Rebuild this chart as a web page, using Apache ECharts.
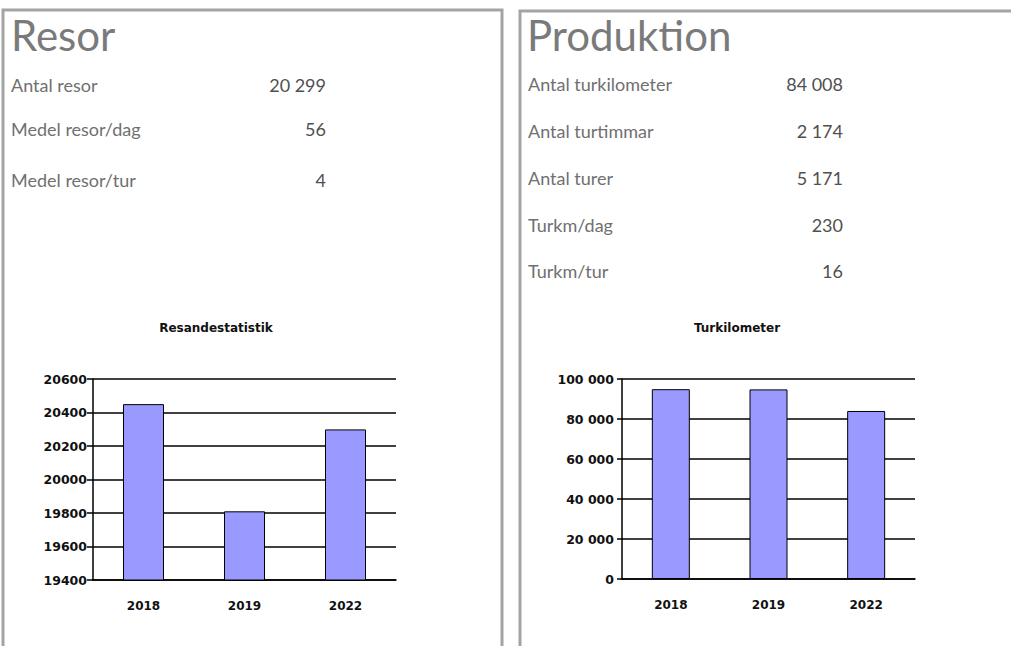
<!DOCTYPE html>
<html>
<head>
<meta charset="utf-8">
<script src="https://cdn.jsdelivr.net/npm/echarts@6/dist/echarts.min.js"></script>
<style>
  html, body { margin: 0; padding: 0; background: #fff; }
  #main { width: 1011px; height: 646px; }
</style>
</head>
<body>
<div id="main"></div>
<script>
// data
const years = ["2018", "2019", "2022"];
const resandeValues = [20450, 19810, 20299];
const turkmValues = [94900, 94800, 84008];

const resorLabels = ["Antal resor", "Medel resor/dag", "Medel resor/tur"];
const resorValues = ["20 299", "56", "4"];
const resorRowY = [87, 131, 182];

const prodLabels = ["Antal turkilometer", "Antal turtimmar", "Antal turer", "Turkm/dag", "Turkm/tur"];
const prodValues = ["84 008", "2 174", "5 171", "230", "16"];
const prodRowY = [86, 133, 180, 227, 273];

const chart = echarts.init(document.getElementById("main"), null, { renderer: "svg" });

const axisFont = { fontFamily: "DejaVu Sans", fontWeight: "bold", fontSize: 12, color: "#111" };
const yFont = { fontFamily: "DejaVu Sans", fontWeight: "bold", fontSize: 12.5, color: "#111" };
const blackLine = { color: "#000", width: 1.5 };

// space as thousands separator
function spaced(v) {
  return String(v).replace(/\B(?=(\d{3})+(?!\d))/g, " ");
}

// text rows of both panels
const panelText = [];
resorLabels.forEach((t, i) => {
  panelText.push({ type: "text", left: 11, top: resorRowY[i] - 11,
    style: { text: t, font: "18px Lato", fill: "#707070" } });
  panelText.push({ type: "text", right: 1011 - 326, top: resorRowY[i] - 11,
    style: { text: resorValues[i], font: "18px Lato", fill: "#505050", textAlign: "right" } });
});
prodLabels.forEach((t, i) => {
  panelText.push({ type: "text", left: 528, top: prodRowY[i] - 11,
    style: { text: t, font: "18px Lato", fill: "#707070" } });
  panelText.push({ type: "text", right: 1011 - 843, top: prodRowY[i] - 11,
    style: { text: prodValues[i], font: "18px Lato", fill: "#505050", textAlign: "right" } });
});

const option = {
  animation: false,
  backgroundColor: "#fff",
  title: [
    { text: "Resandestatistik", left: 211, top: 317, textAlign: "center",
      textStyle: { fontFamily: "DejaVu Sans", fontSize: 12, fontWeight: "bold", color: "#111" } },
    { text: "Turkilometer", left: 732, top: 317, textAlign: "center",
      textStyle: { fontFamily: "DejaVu Sans", fontSize: 12, fontWeight: "bold", color: "#111" } }
  ],
  graphic: [
    // panel borders
    { type: "polyline", shape: { points: [[3, 646], [3, 10], [502, 10], [502, 646]] },
      style: { stroke: "#a4a4a4", lineWidth: 3, fill: null } },
    { type: "polyline", shape: { points: [[520, 646], [520, 11], [1015, 11]] },
      style: { stroke: "#a4a4a4", lineWidth: 3, fill: null } },
    { type: "text", left: 11, top: 14,
      style: { text: "Resor", font: "42px Lato", fill: "#7a7a7a" } },
    { type: "text", left: 527, top: 14,
      style: { text: "Produktion", font: "42px Lato", fill: "#7a7a7a" } }
  ].concat(panelText),
  grid: [
    { left: 93, top: 379, width: 303, height: 201 },
    { left: 622, top: 379, width: 293, height: 200 }
  ],
  xAxis: [
    { type: "category", gridIndex: 0, data: years,
      axisLine: { lineStyle: blackLine }, axisTick: { length: 5, lineStyle: blackLine },
      axisLabel: Object.assign({ margin: 20 }, axisFont) },
    { type: "category", gridIndex: 1, data: years,
      axisLine: { lineStyle: blackLine }, axisTick: { length: 5, lineStyle: blackLine },
      axisLabel: Object.assign({ margin: 20 }, axisFont) }
  ],
  yAxis: [
    { type: "value", gridIndex: 0, min: 19400, max: 20600, interval: 200,
      axisLine: { show: true, lineStyle: blackLine },
      axisTick: { show: true, length: 6, lineStyle: blackLine },
      splitLine: { lineStyle: blackLine },
      axisLabel: Object.assign({ margin: 6, formatter: (v) => String(v) }, yFont) },
    { type: "value", gridIndex: 1, min: 0, max: 100000, interval: 20000,
      axisLine: { show: true, lineStyle: blackLine },
      axisTick: { show: true, length: 5, lineStyle: blackLine },
      splitLine: { lineStyle: blackLine },
      axisLabel: Object.assign({ margin: 8, formatter: spaced }, yFont) }
  ],
  series: [
    { type: "bar", xAxisIndex: 0, yAxisIndex: 0, data: resandeValues, barWidth: 41,
      itemStyle: { color: "#9999ff", borderColor: "#000", borderWidth: 1 } },
    { type: "bar", xAxisIndex: 1, yAxisIndex: 1, data: turkmValues, barWidth: 38,
      itemStyle: { color: "#9999ff", borderColor: "#000", borderWidth: 1 } }
  ]
};

chart.setOption(option);
</script>
</body>
</html>
